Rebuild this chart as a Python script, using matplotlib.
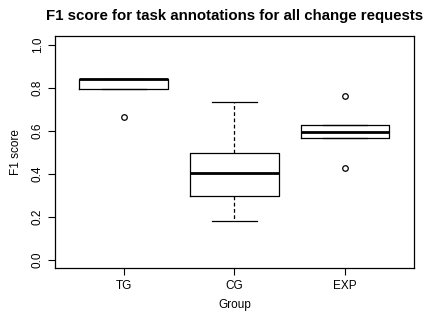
import matplotlib
matplotlib.use('Agg')
import matplotlib.pyplot as plt

# data
groups = ['TG', 'CG', 'EXP']
q1 = [0.795, 0.298, 0.568]
med = [0.843, 0.403, 0.595]
q3 = [0.843, 0.497, 0.628]
whis_lo = [0.795, 0.181, 0.568]
whis_hi = [0.843, 0.736, 0.628]
outliers = [[0.665], [], [0.762, 0.429]]

plt.rcParams['font.family'] = ['Liberation Sans', 'DejaVu Sans']

fig = plt.figure(figsize=(4.27, 3.14), dpi=100)
ax = fig.add_axes([0.129, 0.145, 0.840, 0.739])

stats = []
for i, g in enumerate(groups):
    stats.append(dict(label=g, q1=q1[i], med=med[i], q3=q3[i],
                      whislo=whis_lo[i], whishi=whis_hi[i], fliers=outliers[i]))

ax.bxp(stats, positions=[1, 2, 3], widths=0.8,
       boxprops=dict(color='black', linewidth=0.9),
       medianprops=dict(color='black', linewidth=2.0),
       whiskerprops=dict(color='black', linewidth=0.9, linestyle=(0, (3, 2))),
       capprops=dict(color='black', linewidth=0.9),
       flierprops=dict(marker='o', markerfacecolor='none', markeredgecolor='black',
                       markersize=4, markeredgewidth=0.9),
       capwidths=0.4)

ax.set_xlim(0.38, 3.62)
ax.set_ylim(-0.04, 1.04)
ax.set_yticks([0.0, 0.2, 0.4, 0.6, 0.8, 1.0])
ax.set_yticklabels(['0.0', '0.2', '0.4', '0.6', '0.8', '1.0'], rotation=90, va='center')
ax.set_xticks([1, 2, 3])
ax.set_xticklabels(groups)
ax.tick_params(labelsize=8.5, length=5, width=0.8, pad=3)
for s in ax.spines.values():
    s.set_linewidth(0.9)

ax.set_xlabel('Group', fontsize=8.5, labelpad=5)
ax.set_ylabel('F1 score', fontsize=8.5, labelpad=7)
ax.set_title('F1 score for task annotations for all change requests',
             fontsize=10.8, fontweight='bold', pad=12)

fig.savefig('out.png', dpi=100)
